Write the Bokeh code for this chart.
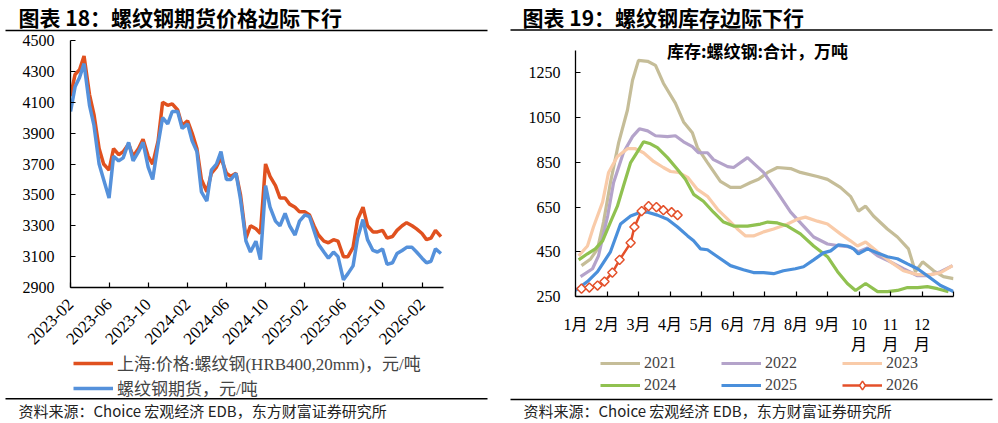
import math
import pandas as pd
from bokeh.plotting import figure
from bokeh.models import (Range1d, FixedTicker, DatetimeTickFormatter, Label,
                          Legend, LegendItem)
from bokeh.layouts import row, column
from bokeh.core.properties import value
from bokeh.embed import file_html
from bokeh.resources import INLINE

SERIF = "Liberation Serif, Noto Sans CJK SC"
CJK = "Noto Sans CJK SC"

# ---------------- left chart data (semi-monthly readings) ----------------
spot_price = [4140, 4280, 4310, 4400, 4150, 4020, 3800, 3700, 3660, 3800,
              3760, 3780, 3830, 3750, 3800, 3860, 3750, 3700, 3850, 4100,
              4080, 4090, 4050, 3950, 3980, 3900, 3800, 3600, 3520, 3640,
              3680, 3740, 3640, 3620, 3640, 3500, 3220, 3300, 3280, 3250,
              3700, 3620, 3560, 3480, 3480, 3440, 3420, 3390, 3390, 3370,
              3300, 3240, 3200, 3190, 3210, 3200, 3100, 3100, 3160, 3340,
              3420, 3300, 3260, 3260, 3270, 3220, 3230, 3270, 3300, 3320,
              3300, 3280, 3250, 3210, 3220, 3270, 3230]
futures_price = [4040, 4200, 4260, 4350, 4080, 3950, 3700, 3600, 3480, 3750,
                 3720, 3740, 3840, 3720, 3780, 3840, 3680, 3600, 3830, 4000,
                 3960, 4040, 4040, 3930, 3960, 3850, 3780, 3520, 3460, 3660,
                 3700, 3780, 3600, 3600, 3640, 3470, 3200, 3130, 3200, 3080,
                 3560, 3420, 3330, 3300, 3380, 3300, 3240, 3330, 3370, 3360,
                 3270, 3180, 3130, 3090, 3130, 3100, 2950, 2990, 3040, 3220,
                 3340, 3210, 3140, 3130, 3150, 3050, 3060, 3120, 3140, 3160,
                 3160, 3130, 3090, 3060, 3070, 3150, 3120]
left_tick_labels = ["2023-02", "2023-06", "2023-10", "2024-02", "2024-06",
                    "2024-10", "2025-02", "2025-06", "2025-10", "2026-02"]
left_y_ticks = [2900, 3100, 3300, 3500, 3700, 3900, 4100, 4300, 4500]
left_names = ["上海:价格:螺纹钢(HRB400,20mm)，元/吨", "螺纹钢期货，元/吨"]

# ---------------- right chart data (month position, 万吨) ----------------
x2021 = [0.19, 0.48, 0.70, 0.89, 1.11, 1.37, 1.65, 1.81, 2.00, 2.29, 2.54, 2.79,
         3.17, 3.43, 3.71, 3.87, 4.19, 4.60, 4.92, 5.24, 5.56, 5.81, 6.10, 6.41,
         6.83, 7.14, 7.68, 8.00, 8.41, 8.73, 8.98, 9.21, 9.46, 9.90, 10.22, 10.57,
         10.79, 11.02, 11.37, 11.68, 12.00]
v2021 = [388, 418, 463, 583, 760, 938, 1084, 1217, 1306, 1302, 1284, 1204,
         1115, 1031, 982, 916, 849, 765, 738, 738, 760, 774, 805, 827,
         822, 805, 787, 774, 738, 698, 632, 654, 610, 552, 516, 463,
         361, 405, 365, 339, 330]
x2022 = [0.16, 0.54, 0.73, 1.02, 1.21, 1.52, 1.81, 2.03, 2.29, 2.54, 2.92, 3.17,
         3.43, 3.71, 3.90, 4.19, 4.38, 4.83, 5.02, 5.46, 5.97, 6.41, 6.83, 7.24,
         7.56, 8.00, 8.41, 8.73, 8.98, 9.27, 9.59, 10.00, 10.41, 10.86, 11.17,
         11.59, 11.97]
v2022 = [339, 374, 432, 610, 760, 893, 965, 1000, 991, 969, 965, 969,
         942, 920, 893, 893, 862, 831, 827, 871, 805, 716, 627, 565,
         516, 485, 476, 472, 450, 467, 432, 405, 374, 343, 343, 361, 388]
x2023 = [0.10, 0.38, 0.57, 0.86, 1.05, 1.33, 1.65, 1.90, 2.16, 2.48, 2.79, 3.02,
         3.27, 3.56, 3.87, 4.19, 4.51, 4.83, 5.14, 5.40, 5.65, 5.97, 6.29, 6.73,
         7.05, 7.30, 7.68, 8.00, 8.41, 8.73, 8.95, 9.21, 9.59, 10.00, 10.41,
         10.86, 11.27, 11.59, 11.97]
v2023 = [432, 476, 561, 672, 805, 876, 911, 911, 893, 854, 827, 809,
         805, 783, 729, 698, 640, 596, 552, 521, 521, 539, 552, 574,
         596, 605, 587, 574, 530, 499, 476, 494, 450, 405, 365, 348, 348, 357, 388]
x2024 = [0.10, 0.38, 0.63, 0.86, 1.11, 1.33, 1.52, 1.75, 1.97, 2.16, 2.38, 2.60,
         2.92, 3.24, 3.49, 3.75, 4.06, 4.38, 4.70, 5.02, 5.46, 5.87, 6.10, 6.41,
         6.73, 7.14, 7.56, 8.00, 8.32, 8.63, 8.89, 9.21, 9.59, 9.90, 10.22, 10.54,
         10.86, 11.17, 11.49, 11.84]
v2024 = [414, 441, 463, 499, 583, 654, 743, 849, 898, 942, 933, 916,
         871, 818, 774, 707, 676, 627, 583, 565, 565, 574, 583, 579,
         565, 530, 476, 428, 361, 308, 277, 308, 272, 272, 277, 290,
         290, 294, 285, 272]
x2025 = [0.00, 0.38, 0.70, 1.11, 1.43, 1.75, 2.06, 2.29, 2.60, 2.92, 3.24, 3.56,
         3.75, 3.97, 4.19, 4.51, 4.92, 5.33, 5.65, 5.97, 6.29, 6.60, 6.98, 7.24,
         7.56, 7.87, 8.10, 8.35, 8.63, 8.83, 8.98, 9.27, 9.59, 9.90, 10.22, 10.54,
         10.86, 11.17, 11.59, 12.00]
v2025 = [277, 317, 361, 450, 574, 610, 627, 627, 614, 596, 561, 521,
         499, 463, 459, 428, 388, 370, 357, 357, 352, 365, 374, 383,
         414, 445, 454, 481, 476, 463, 441, 463, 445, 428, 419, 396,
         374, 343, 299, 272]
x2026 = [0.19, 0.44, 0.70, 0.92, 1.17, 1.40, 1.75, 1.87, 2.10, 2.32, 2.57, 2.79, 3.05, 3.24]
v2026 = [285, 290, 299, 317, 357, 414, 490, 561, 632, 654, 650, 636, 627, 614]
month_labels = ["1月", "2月", "3月", "4月", "5月", "6月", "7月", "8月", "9月",
                "10月", "11月", "12月"]
right_y_ticks = [250, 450, 650, 850, 1050, 1250]
year_names = ["2021", "2022", "2023", "2024", "2025", "2026"]

TITLE_L = "图表 18：螺纹钢期货价格边际下行"
TITLE_R = "图表 19：螺纹钢库存边际下行"
SUBTITLE_R = "库存:螺纹钢:合计，万吨"
SOURCE = "资料来源：Choice 宏观经济 EDB，东方财富证券研究所"

C_SPOT = "#E0511F"
C_FUT = "#5591DB"
YEAR_COLORS = ["#C5BD98", "#B4A3CA", "#F9CBA9", "#90C150", "#4A8FDB", "#E4502A"]

W = 499          # width of each half
HEAD_H = 33      # header strip height
FOOT_H = 68      # footer strip height
CHART_H = 423 - HEAD_H - FOOT_H
FOOT_TOP = HEAD_H + CHART_H


def ms(s):
    return pd.Timestamp(s).value / 1e6


def strip(h):
    """A plain figure whose frame is the whole strip, in pixel-like units."""
    f = figure(width=W, height=h, x_range=Range1d(0, W), y_range=Range1d(h, 0),
               x_axis_location=None, y_axis_location=None, output_backend="svg",
               toolbar_location=None, title=None, min_border=0, frame_align=False)
    f.xgrid.visible = False
    f.ygrid.visible = False
    f.outline_line_color = None
    f.background_fill_color = "white"
    f.border_fill_color = "white"
    return f


def put_text(f, x, y, txt, font, size, bold=False, color="black", align="left"):
    f.text(x=[x], y=[y], text=[txt], text_font=value(font),
           text_font_size=value(size),
           text_font_style=value("bold" if bold else "normal"),
           text_color=color, text_align=align, text_baseline="middle")


def put_rule(f, x0, x1, y):
    f.segment(x0=[x0], y0=[y], x1=[x1], y1=[y], line_color="black", line_width=1.4)


def style_axes(p):
    for ax in (p.xaxis[0], p.yaxis[0]):
        ax.axis_line_color = "black"
        ax.axis_line_width = 1.3
        ax.major_tick_line_color = "black"
        ax.major_tick_line_width = 1.2
        ax.major_tick_in = 5
        ax.major_tick_out = 0
        ax.minor_tick_line_color = None
        ax.major_label_text_font = SERIF
        ax.major_label_text_font_size = "16px"
        ax.major_label_text_color = "black"
    p.xgrid.visible = False
    p.ygrid.visible = False
    p.outline_line_color = None
    p.background_fill_color = "white"
    p.border_fill_color = "white"


def legend(items, loc, ncols, gh, lw, size):
    return Legend(items=items, location=loc,
                  orientation="horizontal" if ncols > 1 else "vertical",
                  ncols=ncols, glyph_width=40, glyph_height=gh, label_height=gh,
                  label_width=lw, label_standoff=4, spacing=0, padding=0, margin=0,
                  border_line_color=None, background_fill_alpha=0,
                  label_text_font=SERIF, label_text_font_size=size)


# ======================= left half =======================
h1 = strip(HEAD_H)
put_text(h1, 18, 16, TITLE_L, CJK, "21px", bold=True)
put_rule(h1, 5, 487, 30)

dates = pd.date_range("2023-02-01", periods=len(spot_price), freq="SMS")
p1 = figure(width=W, height=CHART_H, x_axis_type="datetime",
            x_range=Range1d(ms("2023-02-01") - 6 * 3600e3, ms("2026-04-09")),
            y_range=Range1d(2900, 4500), output_backend="svg",
            toolbar_location=None, title=None, frame_align=False,
            min_border_left=70, min_border_right=56,
            min_border_top=7, min_border_bottom=CHART_H - 7 - 247)
style_axes(p1)
p1.xaxis.ticker = FixedTicker(ticks=[ms(t + "-01") for t in left_tick_labels])
fmt = "%Y-%m"
p1.xaxis.formatter = DatetimeTickFormatter(
    microseconds=fmt, milliseconds=fmt, seconds=fmt, minsec=fmt, minutes=fmt,
    hourmin=fmt, hours=fmt, days=fmt, months=fmt, years=fmt)
p1.xaxis.major_label_orientation = math.pi / 4
p1.xaxis.major_label_standoff = 14
p1.xaxis.major_label_text_font_size = "17px"
p1.yaxis.ticker = FixedTicker(ticks=left_y_ticks)
p1.yaxis.major_label_standoff = 16
p1.line(dates, spot_price, line_color=C_SPOT, line_width=3.5)
p1.line(dates, futures_price, line_color=C_FUT, line_width=3.5)

f1 = strip(FOOT_H)
d_spot = f1.line([-60, -50], [-60, -60], line_color=C_SPOT, line_width=3.5)
d_fut = f1.line([-60, -50], [-60, -60], line_color=C_FUT, line_width=3.5)
# two rows of 24 px, centred near y = 364 / 388
f1.add_layout(legend([LegendItem(label=left_names[0], renderers=[d_spot]),
                      LegendItem(label=left_names[1], renderers=[d_fut])],
                     (73, FOOT_H - (400 - FOOT_TOP)), 1, 24, 20, "17px"), "center")
put_rule(f1, 5, 487, 398.3 - FOOT_TOP)
put_text(f1, 18, 410 - FOOT_TOP, SOURCE, CJK, "15px", color="#222222")

# ======================= right half =======================
h2 = strip(HEAD_H)
put_text(h2, 23, 16, TITLE_R, CJK, "21px", bold=True)
put_rule(h2, 11, 493, 29.5)

p2 = figure(width=W, height=CHART_H, x_range=Range1d(0, 12),
            y_range=Range1d(250, 1395), output_backend="svg",
            toolbar_location=None, title=None, frame_align=False,
            min_border_left=76, min_border_right=45,
            min_border_top=7, min_border_bottom=CHART_H - 7 - 258)
style_axes(p2)
p2.yaxis.bounds = (250, 1350)
p2.xaxis.ticker = FixedTicker(ticks=list(range(13)))
overrides = {}
for i, lbl in enumerate(month_labels):
    overrides[i] = lbl if len(lbl) <= 2 else lbl[:-1] + "\n" + lbl[-1]
overrides[12] = ""
p2.xaxis.major_label_overrides = overrides
p2.xaxis.major_label_standoff = 19
p2.yaxis.ticker = FixedTicker(ticks=right_y_ticks)
p2.yaxis.major_label_standoff = 15

xs_all = [x2021, x2022, x2023, x2024, x2025]
vs_all = [v2021, v2022, v2023, v2024, v2025]
for xs, vs, col in zip(xs_all, vs_all, YEAR_COLORS[:5]):
    p2.line(xs, vs, line_color=col, line_width=3.2)
p2.line(x2026, v2026, line_color=YEAR_COLORS[5], line_width=2.5)
p2.scatter(x2026, v2026, marker="square", angle=math.pi / 4, size=6.5,
           fill_color="white", line_color=YEAR_COLORS[5], line_width=1.5)
p2.add_layout(Label(x=182, y=298 - 52, x_units="screen", y_units="screen",
                    text=SUBTITLE_R, text_font=CJK, text_font_size="17px",
                    text_font_style="bold", text_align="center",
                    text_baseline="middle", text_color="black"))

f2 = strip(FOOT_H)
items = []
for name, col in zip(year_names[:5], YEAR_COLORS[:5]):
    d = f2.line([-60, -50], [-60, -60], line_color=col, line_width=3.2)
    items.append(LegendItem(label=name, renderers=[d]))
d26l = f2.line([-60, -50], [-60, -60], line_color=YEAR_COLORS[5], line_width=2.5)
d26m = f2.scatter([-60], [-60], marker="diamond", size=12,
                  fill_color="white", line_color=YEAR_COLORS[5], line_width=1.5)
items.append(LegendItem(label=year_names[5], renderers=[d26l, d26m]))
# two rows of 22 px, centred near y = 363 / 385
f2.add_layout(legend(items, (101, FOOT_H - (396 - FOOT_TOP)), 3, 22, 77, "16px"), "center")
put_rule(f2, 11, 493, 399 - FOOT_TOP)
put_text(f2, 24, 410 - FOOT_TOP, SOURCE, CJK, "15px", color="#222222")

layout = row(column(h1, p1, f1, spacing=0), column(h2, p2, f2, spacing=0), spacing=0)
open("out.html", "w").write(file_html(layout, INLINE))
